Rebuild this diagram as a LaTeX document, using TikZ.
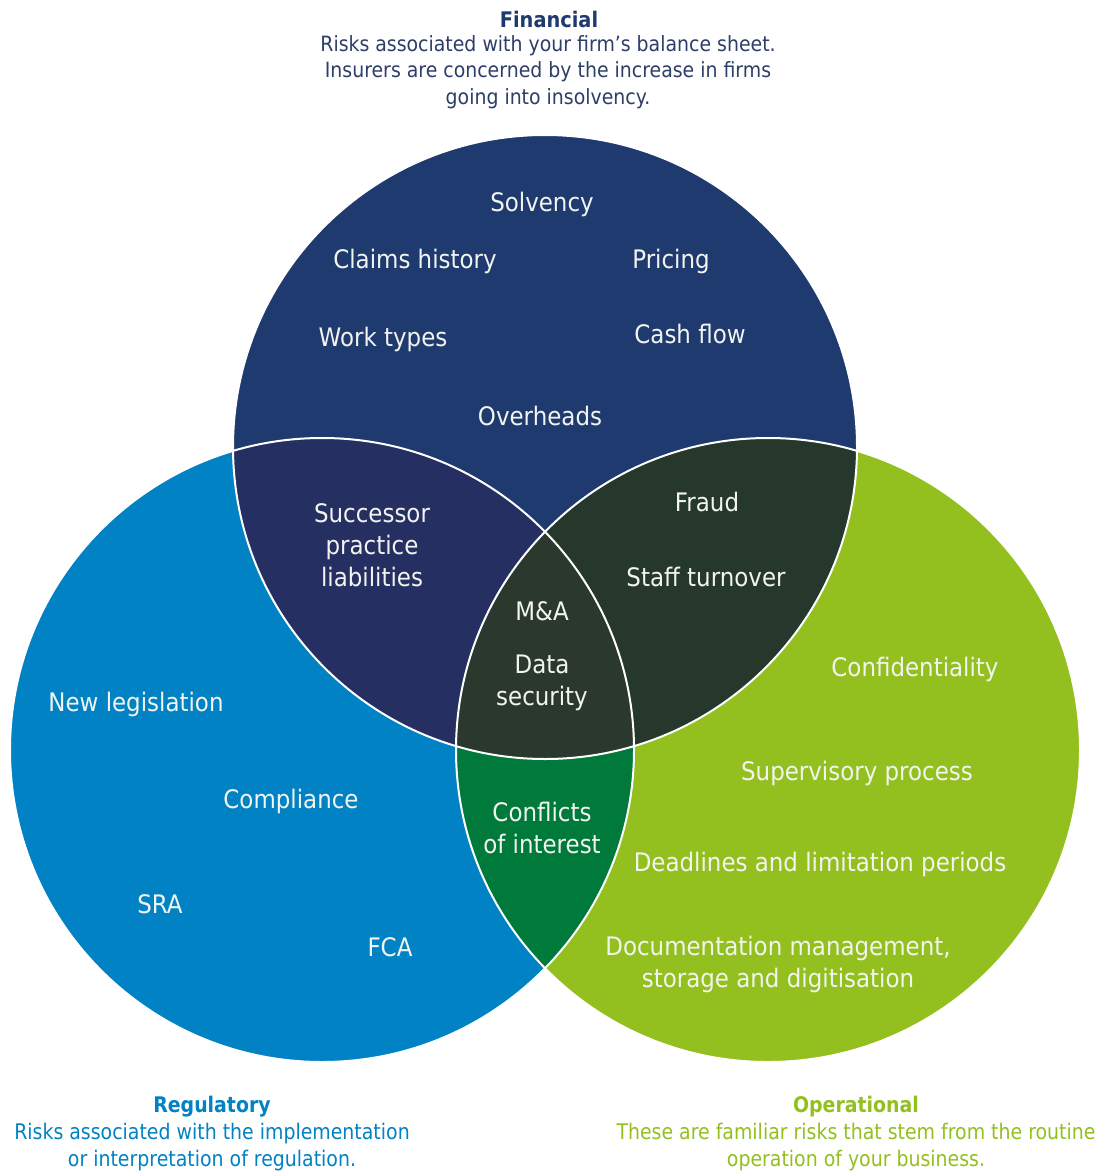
\documentclass[tikz,border=0pt]{standalone}
\usepackage{fontspec}
\setmainfont{DejaVu Sans}
\newfontfamily\narrowfont[FakeStretch=0.88]{DejaVu Sans}
\newfontfamily\labelfont[FakeStretch=0.9]{DejaVu Sans}

\definecolor{finfill}{RGB}{31,58,110}
\definecolor{regfill}{RGB}{0,130,196}
\definecolor{opsfill}{RGB}{147,192,31}
\definecolor{finreg}{RGB}{38,47,98}
\definecolor{finops}{RGB}{38,55,44}
\definecolor{allthree}{RGB}{42,56,46}
\definecolor{regops}{RGB}{0,122,58}
\definecolor{fintext}{RGB}{31,58,110}
\definecolor{findesc}{RGB}{45,62,105}
\definecolor{labelwhite}{RGB}{242,244,240}

\begin{document}
\begin{tikzpicture}[x=1pt,y=-1pt,
  lbl/.style={text=labelwhite, font=\labelfont\fontsize{25.5}{32}\selectfont, align=center, inner sep=0pt},
  toptitle/.style={font=\labelfont\fontsize{21.5}{27}\bfseries\selectfont, inner sep=0pt},
  topdesc/.style={font=\labelfont\fontsize{21}{26.5}\selectfont, align=center, inner sep=0pt},
  bottitle/.style={font=\narrowfont\fontsize{21.5}{27}\bfseries\selectfont, inner sep=0pt},
  botdesc/.style={font=\narrowfont\fontsize{21.5}{26.5}\selectfont, align=center, inner sep=0pt},
  ring/.style={draw=white, line width=2pt}
]
\useasboundingbox[fill=white] (0,0) rectangle (1109,1174);

% circle centres
\coordinate (cF) at (545,447);
\coordinate (cR) at (322,750);
\coordinate (cO) at (768,750);
\def\rad{312pt}

% base discs
\fill[finfill] (cF) circle[radius=\rad];
\fill[regfill] (cR) circle[radius=\rad];
\fill[opsfill] (cO) circle[radius=\rad];

% pairwise overlaps
\begin{scope}
  \clip (cF) circle[radius=\rad];
  \fill[finreg] (cR) circle[radius=\rad];
  \fill[finops] (cO) circle[radius=\rad];
\end{scope}
\begin{scope}
  \clip (cR) circle[radius=\rad];
  \fill[regops] (cO) circle[radius=\rad];
\end{scope}
% triple overlap
\begin{scope}
  \clip (cF) circle[radius=\rad];
  \clip (cR) circle[radius=\rad];
  \fill[allthree] (cO) circle[radius=\rad];
\end{scope}

% white outlines
\draw[ring] (cF) circle[radius=\rad];
\draw[ring] (cR) circle[radius=\rad];
\draw[ring] (cO) circle[radius=\rad];

% headings
\node[toptitle, text=fintext] (fintitle) at (549,19) {Financial};
\node[topdesc, text=findesc] (findesc) at (548,72)
  {Risks associated with your firm’s balance sheet.\\Insurers are concerned by the increase in firms\\going into insolvency.};

\node[bottitle, text=regfill] (regtitle) at (212,1107) {Regulatory};
\node[botdesc, text=regfill] (regdesc) at (212,1147)
  {Risks associated with the implementation\\or interpretation of regulation.};

\node[bottitle, text=opsfill] (opstitle) at (856,1107) {Operational};
\node[botdesc, text=opsfill] (opsdesc) at (856,1147)
  {These are familiar risks that stem from the routine\\operation of your business.};

% financial
\node[lbl] (solv) at (542,204) {Solvency};
\node[lbl] (claims) at (415,261) {Claims history};
\node[lbl] (pricing) at (671,261) {Pricing};
\node[lbl] (work) at (383,339) {Work types};
\node[lbl] (cash) at (690,334) {Cash flow};
\node[lbl] (over) at (540,416) {Overheads};

% financial + regulatory
\node[lbl] (succ) at (372,545) {Successor\\practice\\liabilities};

% financial + operational
\node[lbl] (fraud) at (707,502) {Fraud};
\node[lbl] (staff) at (706,577) {Staff turnover};

% all three
\node[lbl] (ma) at (542,611) {M\&A};
\node[lbl] (data) at (542,683) {Data\\security};

% regulatory
\node[lbl] (newleg) at (136,704) {New legislation};
\node[lbl] (compl) at (291,801) {Compliance};
\node[lbl] (sra) at (160,904) {SRA};
\node[lbl] (fca) at (390,947) {FCA};

% regulatory + operational
\node[lbl] (conf) at (542,828) {Conflicts\\of interest};

% operational
\node[lbl] (confid) at (915,669) {Confidentiality};
\node[lbl] (superv) at (857,773) {Supervisory process};
\node[lbl] (dead) at (820,864) {Deadlines and limitation periods};
\node[lbl] (docs) at (778,964) {Documentation management,\\storage and digitisation};
\end{tikzpicture}
\end{document}
